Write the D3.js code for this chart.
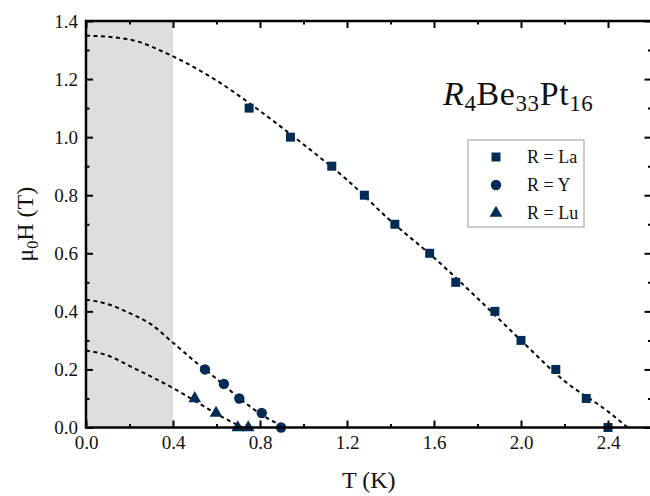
<!DOCTYPE html>
<html>
<head>
<meta charset="utf-8">
<script src="https://cdn.jsdelivr.net/npm/d3@7"></script>
<style>
  body { margin: 0; background: #fff; }
  svg { display: block; font-family: "Liberation Serif", serif; }
</style>
</head>
<body>
<div id="chart"></div>
<script>
'use strict';

// Measured points
const laT = [0.75, 0.94, 1.13, 1.28, 1.42, 1.58, 1.70, 1.88, 2.00, 2.16, 2.30, 2.40];
const laH = [1.10, 1.00, 0.90, 0.80, 0.70, 0.60, 0.50, 0.40, 0.30, 0.20, 0.10, 0.00];
const yT = [0.547, 0.634, 0.705, 0.808, 0.897];
const yH = [0.20, 0.15, 0.10, 0.05, 0.00];
const luT = [0.50, 0.598, 0.698, 0.746];
const luH = [0.10, 0.05, 0.00, 0.00];

// Dashed fit curves
const fitLaT = [0, 0.2, 0.4, 0.6, 0.8, 1.0, 1.2, 1.4, 1.6, 1.8, 2.0, 2.2, 2.4, 2.49];
const fitLaH = [1.350, 1.336, 1.278, 1.195, 1.090, 0.975, 0.853, 0.712, 0.585, 0.445, 0.300, 0.160, 0.055, 0.0];
const fitYT = [0, 0.1, 0.2, 0.3, 0.4, 0.5, 0.6, 0.7, 0.8, 0.915];
const fitYH = [0.440, 0.425, 0.394, 0.355, 0.292, 0.228, 0.168, 0.104, 0.048, 0.0];
const fitLuT = [0, 0.1, 0.2, 0.3, 0.4, 0.5, 0.6, 0.72];
const fitLuH = [0.265, 0.248, 0.212, 0.175, 0.136, 0.092, 0.047, 0.0];

const shadeRange = [0, 0.4];
const legendLabels = ['R = La', 'R = Y', 'R = Lu'];

const W = 650, H = 496;
const navy = '#022c56';

const svg = d3.select('#chart').append('svg')
  .attr('width', W).attr('height', H);

const x = d3.scaleLinear().domain([0, 2.6]).range([86, 651.5]);
const y = d3.scaleLinear().domain([0, 1.4]).range([427.5, 21]);

// grey band
svg.append('rect')
  .attr('x', x(shadeRange[0])).attr('y', y(1.4))
  .attr('width', x(shadeRange[1]) - x(shadeRange[0]))
  .attr('height', y(0) - y(1.4))
  .attr('fill', '#dedede');

// fit curves
const zip = (a, b) => a.map((v, i) => [v, b[i]]);
const line = d3.line().x(d => x(d[0])).y(d => y(d[1])).curve(d3.curveMonotoneX);
[[fitLaT, fitLaH], [fitYT, fitYH], [fitLuT, fitLuH]].forEach(([t, h]) => {
  svg.append('path')
    .attr('d', line(zip(t, h)))
    .attr('fill', 'none')
    .attr('stroke', '#000')
    .attr('stroke-width', 2)
    .attr('stroke-dasharray', '4,3.5');
});

// markers
const symSquare = d3.symbol().type(d3.symbolSquare).size(81);
const symCircle = d3.symbol().type(d3.symbolCircle).size(85);
const symTri = d3.symbol().type(d3.symbolTriangle).size(70);

function drawPoints(t, h, sym) {
  svg.append('g').selectAll('path')
    .data(zip(t, h))
    .enter().append('path')
      .attr('d', sym)
      .attr('transform', d => 'translate(' + x(d[0]) + ',' + y(d[1]) + ')')
      .attr('fill', navy);
}
drawPoints(laT, laH, symSquare);
drawPoints(yT, yH, symCircle);
drawPoints(luT, luH, symTri);

// axes, ticks pointing inward
const xMajor = [0, 0.4, 0.8, 1.2, 1.6, 2.0, 2.4];
const xMinor = [0.2, 0.6, 1.0, 1.4, 1.8, 2.2, 2.6];
const yMajor = [0, 0.2, 0.4, 0.6, 0.8, 1.0, 1.2, 1.4];
const yMinor = [0.1, 0.3, 0.5, 0.7, 0.9, 1.1, 1.3];

function tickAxis(axisFn, scale, vals, size, fmt, translate) {
  const g = svg.append('g')
    .attr('transform', translate)
    .call(axisFn(scale).tickValues(vals).tickSizeInner(-size).tickSizeOuter(0)
      .tickFormat(fmt ? d3.format('.1f') : ''));
  g.select('.domain').remove();
  g.selectAll('.tick line').attr('stroke', '#000').attr('stroke-width', 2);
  return g;
}

const gx = tickAxis(d3.axisBottom, x, xMajor, 7, true, 'translate(0,' + y(0) + ')');
gx.selectAll('text').attr('font-size', 19).attr('font-family', 'Liberation Serif')
  .attr('fill', '#111').attr('y', 8).attr('dy', '0.71em');
tickAxis(d3.axisBottom, x, xMinor, 3.5, false, 'translate(0,' + y(0) + ')');
tickAxis(d3.axisTop, x, xMajor, 7, false, 'translate(0,' + y(1.4) + ')');
tickAxis(d3.axisTop, x, xMinor, 3.5, false, 'translate(0,' + y(1.4) + ')');

const gy = tickAxis(d3.axisLeft, y, yMajor, 7, true, 'translate(' + x(0) + ',0)');
gy.selectAll('text').attr('font-size', 19).attr('font-family', 'Liberation Serif')
  .attr('fill', '#111').attr('x', -8);
tickAxis(d3.axisLeft, y, yMinor, 3.5, false, 'translate(' + x(0) + ',0)');
tickAxis(d3.axisRight, y, yMajor, 7, false, 'translate(' + x(2.6) + ',0)');
tickAxis(d3.axisRight, y, yMinor, 3.5, false, 'translate(' + x(2.6) + ',0)');

// frame
svg.append('rect')
  .attr('x', x(0)).attr('y', y(1.4))
  .attr('width', x(2.6) - x(0)).attr('height', y(0) - y(1.4))
  .attr('fill', 'none').attr('stroke', '#000').attr('stroke-width', 2.5);

// axis titles
svg.append('text')
  .attr('x', (x(0) + x(2.6)) / 2).attr('y', 488)
  .attr('text-anchor', 'middle').attr('font-size', 24).attr('fill', '#111')
  .text('T (K)');

const yl = svg.append('text')
  .attr('transform', 'translate(33,' + ((y(0) + y(1.4)) / 2) + ') rotate(-90)')
  .attr('text-anchor', 'middle').attr('font-size', 24).attr('fill', '#111');
yl.append('tspan').text('\u03bc');
yl.append('tspan').attr('font-size', 16).attr('dy', 5).text('0');
yl.append('tspan').attr('dy', -5).text('H (T)');

// compound title
const tt = svg.append('text')
  .attr('x', 443).attr('y', 105).attr('font-size', 34).attr('fill', '#111')
  .attr('letter-spacing', 0.6);
tt.append('tspan').attr('font-style', 'italic').text('R');
tt.append('tspan').attr('font-size', 23).attr('dy', 6).text('4');
tt.append('tspan').attr('dy', -6).text('Be');
tt.append('tspan').attr('font-size', 23).attr('dy', 6).text('33');
tt.append('tspan').attr('dy', -6).text('Pt');
tt.append('tspan').attr('font-size', 23).attr('dy', 6).text('16');

// legend
const leg = svg.append('g');
leg.append('rect')
  .attr('x', 468).attr('y', 140).attr('width', 116).attr('height', 87)
  .attr('fill', '#fff').attr('stroke', '#aaa').attr('stroke-width', 1.2);
const legSyms = [symSquare, symCircle, symTri];
legendLabels.forEach((lab, i) => {
  const cy = 157 + i * 28;
  leg.append('path').attr('d', legSyms[i])
    .attr('transform', 'translate(496,' + cy + ')').attr('fill', navy);
  leg.append('text').attr('x', 527).attr('y', cy).attr('dy', '0.35em')
    .attr('font-size', 18).attr('fill', '#111').text(lab);
});
</script>
</body>
</html>
